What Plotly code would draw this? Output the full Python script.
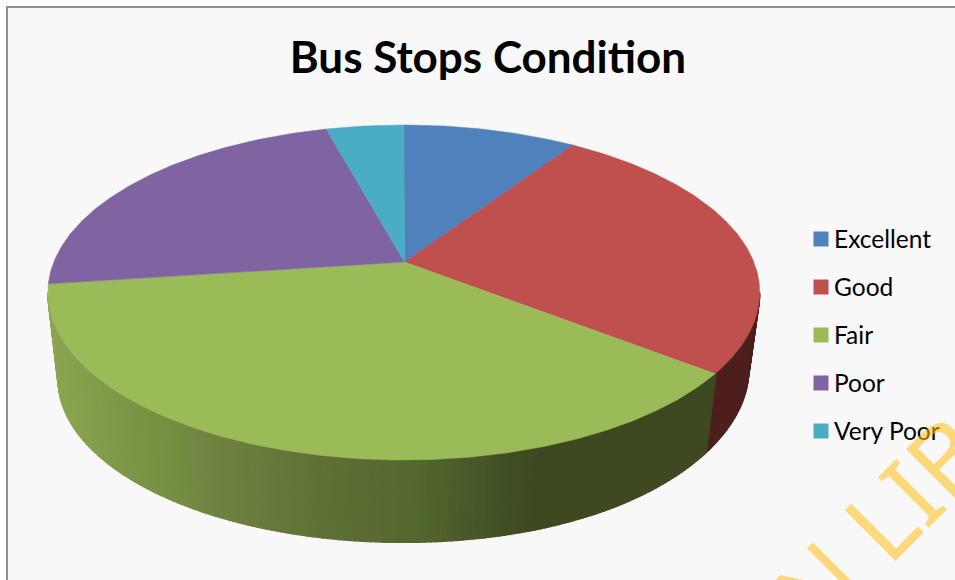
import numpy as np
import plotly.graph_objects as go

categories = ['Excellent', 'Good', 'Fair', 'Poor', 'Very Poor']
shares = [9.4, 26.1, 37.4, 22.9, 4.2]
title_text = 'Bus Stops Condition'
watermark_text = 'N LIB'

colors = ['#4f81bd', '#c0504d', '#9bbb59', '#8064a2', '#4bacc6']
good_side = '#4d1f1e'
# shading of the green wall, left to right
shade_x = [50, 130, 220, 330, 420, 500, 540, 720]
shade_rgb = [(140, 165, 80), (125, 150, 70), (110, 130, 64), (94, 112, 54),
             (84, 103, 48), (66, 82, 37), (62, 73, 33), (62, 73, 33)]

W, H = 955, 580
CX, CY = 404.5, 262
RX, TILT, DEPTH_A = 350, -0.182, 114.3


def rim(deg):
    # clockwise from 12 o'clock, perspective view of the top disc
    t = np.radians(deg)
    u, v = np.sin(t), -np.cos(t)
    w = 1 + TILT * v
    return CX - 0.7 + RX * u / w, (DEPTH_A * v + CY) / w


def lower(x, y):
    # same rim on the underside of the pie, right end sits a bit higher
    dx = max(x - 405, 0) / 350
    return 404.5 + 0.97 * (x - 405), 379 + 0.975 * (y - 292.5) - 8 * dx ** 4


def shade(x):
    return 'rgb(%d,%d,%d)' % tuple(np.interp(x, shade_x, [c[i] for c in shade_rgb]) for i in range(3))


cum = np.cumsum([0] + shares) / sum(shares) * 360
fig = go.Figure()

# wall, silhouette to silhouette
side_start, side_end = 100.5, 259.5
edges = np.arange(side_start, side_end + 0.75, 0.75)
for a0, a1 in zip(edges[:-1], edges[1:]):
    x0, y0 = rim(a0)
    x1, y1 = rim(a1)
    lx0, ly0 = lower(x0, y0)
    lx1, ly1 = lower(x1, y1)
    mid = (a0 + a1) / 2
    col = good_side if mid < cum[2] else shade((x0 + x1) / 2)
    fig.add_trace(go.Scatter(x=[x0, x1, lx1, lx0, x0], y=[y0, y1, ly1, ly0, y0], mode='lines', fill='toself',
                             fillcolor=col, line=dict(color=col, width=1.5), hoverinfo='skip', showlegend=False))

# top slices
for i, name in enumerate(categories):
    angles = np.linspace(cum[i], cum[i + 1], max(int(cum[i + 1] - cum[i]) * 2, 2))
    xs, ys = rim(angles)
    fig.add_trace(go.Scatter(x=np.r_[CX, xs, CX], y=np.r_[CY, ys, CY], mode='lines', fill='toself',
                             fillcolor=colors[i], line=dict(color=colors[i], width=0.5), name=name,
                             hoverinfo='name', showlegend=False))

# legend keys
legend_y = [239 + 48 * i for i in range(len(categories))]
fig.add_trace(go.Scatter(x=[821] * len(categories), y=legend_y, mode='markers', hoverinfo='skip', showlegend=False,
                         marker=dict(symbol='square', size=15, color=colors, line=dict(width=0))))
annotations = [dict(x=832, y=yy - 1, text=name, showarrow=False, xanchor='left', yanchor='middle',
                    font=dict(family='Lato', size=24.5, color='#000000'))
               for name, yy in zip(categories, legend_y)]
annotations.append(dict(x=878, y=523, text=watermark_text, showarrow=False, textangle=-45,
                        font=dict(family='Noto Sans', size=100, color='rgba(255,190,20,0.55)')))

fig.update_layout(
    width=W, height=H, margin=dict(l=0, r=0, t=0, b=0), paper_bgcolor='#ffffff', plot_bgcolor='#ffffff',
    title=dict(text='<b>%s</b>' % title_text, x=488 / W, y=1 - 58 / H, xanchor='center', yanchor='middle',
               font=dict(family='Lato', size=44, color='#000000')),
    xaxis=dict(range=[0, W], visible=False, fixedrange=True),
    yaxis=dict(range=[H, 0], visible=False, fixedrange=True),
    shapes=[dict(type='rect', x0=7, y0=7, x1=W + 20, y1=H + 20, layer='below', fillcolor='#f8f8f8',
                 line=dict(color='#8e8e8e', width=2))],
    annotations=annotations,
)
# page margin would push the figure 8px in
fig.write_html("out.html", post_script="document.body.style.margin='0';", config=dict(displayModeBar=False))
